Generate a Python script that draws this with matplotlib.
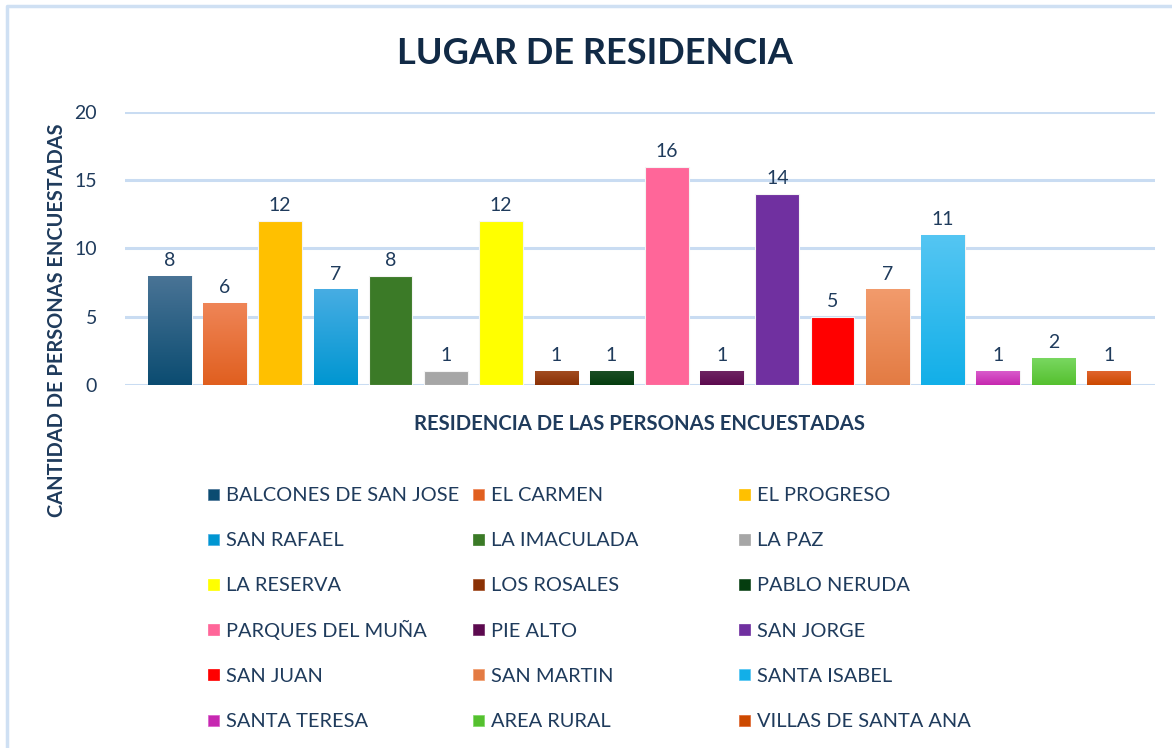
import numpy as np
import matplotlib.pyplot as plt
from matplotlib.colors import LinearSegmentedColormap
from matplotlib.patches import Rectangle
from matplotlib.lines import Line2D

plt.switch_backend('agg')
plt.rcParams['font.family'] = ['Lato', 'DejaVu Sans']

categories = ["BALCONES DE SAN JOSE", "EL CARMEN", "EL PROGRESO", "SAN RAFAEL",
              "LA IMACULADA", "LA PAZ", "LA RESERVA", "LOS ROSALES", "PABLO NERUDA",
              "PARQUES DEL MUÑA", "PIE ALTO", "SAN JORGE", "SAN JUAN", "SAN MARTIN",
              "SANTA ISABEL", "SANTA TERESA", "AREA RURAL", "VILLAS DE SANTA ANA"]
values = [8, 6, 12, 7, 8, 1, 12, 1, 1, 16, 1, 14, 5, 7, 11, 1, 2, 1]
# (top colour, bottom colour) of each bar
top_colors = ["#4a7496", "#ef8557", "#ffc000", "#47ade3", "#3b7a27", "#a6a6a6",
              "#ffff00", "#a24c22", "#1b4e25", "#ff6699", "#6e2462", "#7030a0",
              "#ff0000", "#f29b6c", "#55c6f3", "#d95ccb", "#7ad862", "#e0642e"]
bottom_colors = ["#0b4c71", "#e05f1f", "#ffc000", "#0096d1", "#3b7a27", "#a6a6a6",
                 "#ffff00", "#8a3105", "#053d0f", "#ff6699", "#5c0a4f", "#7030a0",
                 "#ff0000", "#e37b43", "#12afe8", "#c628b0", "#55c02f", "#cc4900"]

text_col = "#1f3b5c"
grid_col = "#c9dcf2"
W, H = 1172, 748

fig = plt.figure(figsize=(W / 100, H / 100), dpi=100)
ax = fig.add_axes([125 / W, 1 - 385 / H, (1155 - 125) / W, (385 - 112) / H])

x = np.arange(len(values))
bars = ax.bar(x - 0.03, values, width=0.79, color=bottom_colors, edgecolor="#f4f4f4",
              linewidth=0.8, zorder=3)

grad = np.linspace(0, 1, 256).reshape(-1, 1)
for b, c_top, c_bot in zip(bars, top_colors, bottom_colors):
    if c_top == c_bot:
        continue
    cmap = LinearSegmentedColormap.from_list("g", [c_bot, c_top])
    im = ax.imshow(grad, cmap=cmap, aspect="auto", origin="lower",
                   extent=[b.get_x(), b.get_x() + b.get_width(), 0, b.get_height()],
                   zorder=3.5)
    im.set_clip_path(b)

for b, v in zip(bars, values):
    ax.annotate(str(v), (b.get_x() + b.get_width() / 2, v), xytext=(0, 5),
                textcoords="offset points", ha="center", va="bottom",
                fontsize=14, color=text_col)

ax.set_xlim(-0.84, len(values) - 1 + 0.81)
ax.set_ylim(0, 20)
ax.set_yticks([0, 5, 10, 15, 20])
ax.set_xticks([])
ax.grid(axis="y", color=grid_col, linewidth=2.2, zorder=0)
for s in ax.spines.values():
    s.set_visible(False)
ax.tick_params(axis="y", length=0, pad=20, labelsize=14, labelcolor=text_col)
ax.set_axisbelow(True)

fig.text(0.508, 1 - 53 / H, "LUGAR DE RESIDENCIA", ha="center", va="center",
         fontsize=26, fontweight="bold", color="#112a46")
fig.text(640 / W, 1 - 424 / H, "RESIDENCIA DE LAS PERSONAS ENCUESTADAS",
         ha="center", va="center", fontsize=14.6, fontweight="bold", color=text_col)
fig.text(57 / W, 1 - 320 / H, "CANTIDAD DE PERSONAS ENCUESTADAS", rotation=90,
         ha="center", va="center", fontsize=14.4, fontweight="bold", color=text_col)

# legend: three columns, filled row by row
marker_x = [208, 473, 739]
row_y0, row_step, msize = 494, 45.2, 11
for i, name in enumerate(categories):
    r, c = divmod(i, 3)
    yc = row_y0 + r * row_step
    fig.add_artist(Rectangle((marker_x[c] / W, 1 - (yc + msize / 2) / H), msize / W, msize / H,
                             facecolor=bottom_colors[i], edgecolor=top_colors[i],
                             linewidth=0.5, transform=fig.transFigure))
    fig.text((marker_x[c] + 18) / W, 1 - (yc + 7) / H, name, ha="left", va="baseline",
             fontsize=14.4, color=text_col)

# chart border (top and left edges visible)
fig.add_artist(Line2D([7 / W, 7 / W, 1], [0, 1 - 6 / H, 1 - 6 / H],
                      color="#cfe0f3", linewidth=2.5, transform=fig.transFigure))

fig.savefig("out.png", dpi=100)
